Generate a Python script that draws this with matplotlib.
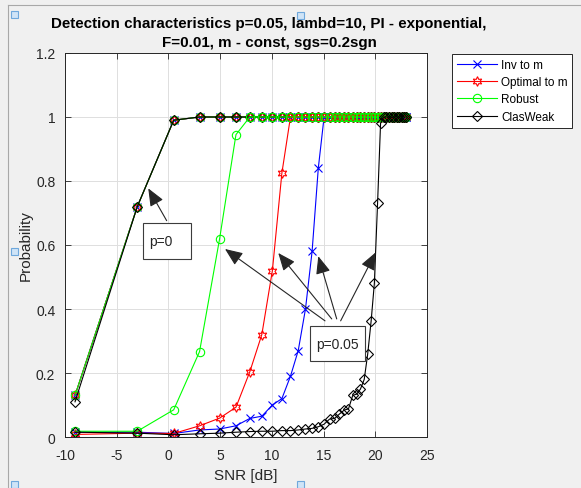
import matplotlib
matplotlib.use('Agg')
import matplotlib.pyplot as plt
from matplotlib.patches import Rectangle
from matplotlib.lines import Line2D

plt.rcParams['font.family'] = ['Liberation Sans', 'DejaVu Sans']
plt.rcParams['axes.unicode_minus'] = False

# SNR grid [dB]
snr = [-9.03, -3.01, 0.51, 3.01, 4.95, 6.53, 7.87, 9.03, 10.05, 10.97,
       11.80, 12.55, 13.25, 13.89, 14.49, 15.05, 15.58, 16.07, 16.54, 16.99,
       17.41, 17.82, 18.20, 18.57, 18.93, 19.27, 19.60, 19.91, 20.22, 20.51,
       20.80, 21.07, 21.34, 21.60, 21.85, 22.10, 22.33, 22.57, 22.79, 23.01]

# p = 0 curves (all nearly on top of each other)
inv_p0 = [0.13, 0.72, 0.99, 1, 1, 1, 1, 1, 1, 1,
          1, 1, 1, 1, 1, 1, 1, 1, 1, 1,
          1, 1, 1, 1, 1, 1, 1, 1, 1, 1,
          1, 1, 1, 1, 1, 1, 1, 1, 1, 1]
opt_p0 = [0.13, 0.72, 0.99, 1, 1, 1, 1, 1, 1, 1,
          1, 1, 1, 1, 1, 1, 1, 1, 1, 1,
          1, 1, 1, 1, 1, 1, 1, 1, 1, 1,
          1, 1, 1, 1, 1, 1, 1, 1, 1, 1]
rob_p0 = [0.13, 0.72, 0.99, 1, 1, 1, 1, 1, 1, 1,
          1, 1, 1, 1, 1, 1, 1, 1, 1, 1,
          1, 1, 1, 1, 1, 1, 1, 1, 1, 1,
          1, 1, 1, 1, 1, 1, 1, 1, 1, 1]
clw_p0 = [0.11, 0.72, 0.99, 1, 1, 1, 1, 1, 1, 1,
          1, 1, 1, 1, 1, 1, 1, 1, 1, 1,
          1, 1, 1, 1, 1, 1, 1, 1, 1, 1,
          1, 1, 1, 1, 1, 1, 1, 1, 1, 1]

# p = 0.05 curves
inv_p05 = [0.015, 0.015, 0.011, 0.022, 0.025, 0.035, 0.058, 0.065, 0.100, 0.120,
           0.190, 0.270, 0.400, 0.580, 0.840, 1, 1, 1, 1, 1,
           1, 1, 1, 1, 1, 1, 1, 1, 1, 1,
           1, 1, 1, 1, 1, 1, 1, 1, 1, 1]
opt_p05 = [0.008, 0.012, 0.011, 0.035, 0.059, 0.093, 0.204, 0.320, 0.520, 0.825,
           1, 1, 1, 1, 1, 1, 1, 1, 1, 1,
           1, 1, 1, 1, 1, 1, 1, 1, 1, 1,
           1, 1, 1, 1, 1, 1, 1, 1, 1, 1]
rob_p05 = [0.018, 0.018, 0.085, 0.267, 0.620, 0.945, 1, 1, 1, 1,
           1, 1, 1, 1, 1, 1, 1, 1, 1, 1,
           1, 1, 1, 1, 1, 1, 1, 1, 1, 1,
           1, 1, 1, 1, 1, 1, 1, 1, 1, 1]
clw_p05 = [0.015, 0.012, 0.007, 0.010, 0.012, 0.015, 0.017, 0.018, 0.018, 0.020,
           0.020, 0.022, 0.025, 0.027, 0.032, 0.040, 0.056, 0.058, 0.072, 0.084,
           0.088, 0.130, 0.134, 0.150, 0.180, 0.260, 0.363, 0.480, 0.730, 0.980,
           1, 1, 1, 1, 1, 1, 1, 1, 1, 1]

labels = ['Inv to m', 'Optimal to m', 'Robust', 'ClasWeak']
colors = ['#0000ff', '#ff0000', '#00ff00', '#000000']
markers = ['x', (6, 1, 0), 'o', 'D']
msizes = [6, 7, 6, 5]

fig = plt.figure(figsize=(5.81, 4.89), dpi=100)
fig.patch.set_facecolor('#f0f0f0')
ax = fig.add_axes([65 / 581, 1 - 438 / 489, 362 / 581, 384 / 489])

curves = [inv_p0, opt_p0, rob_p0, clw_p0, inv_p05, opt_p05, rob_p05, clw_p05]
handles = []
for i, yv in enumerate(curves):
    k = i % 4
    h, = ax.plot(snr, yv, color=colors[k], marker=markers[k], markersize=msizes[k],
                 markerfacecolor='none', markeredgewidth=0.8, linewidth=0.8)
    if i < 4:
        handles.append(h)

ax.set_xlim(-10, 25)
ax.set_ylim(0, 1.2)
ax.set_xticks([-10, -5, 0, 5, 10, 15, 20, 25])
ax.set_yticks([0, 0.2, 0.4, 0.6, 0.8, 1, 1.2])
ax.set_yticklabels(['0', '0.2', '0.4', '0.6', '0.8', '1', '1.2'])
ax.grid(True, color='#dedede', linewidth=0.7)
ax.set_axisbelow(True)
ax.tick_params(direction='in', top=True, right=True, length=4, width=0.6,
               labelsize=10, colors='#262626')
ax.tick_params(axis='x', pad=8)
ax.tick_params(axis='y', pad=7)
for sp in ax.spines.values():
    sp.set_color('#262626')
    sp.set_linewidth(0.7)

ax.set_xlabel('SNR [dB]', fontsize=11, color='#262626')
ax.set_ylabel('Probability', fontsize=11, color='#262626')
ax.xaxis.set_label_coords(0.5, -0.08)
ax.yaxis.set_label_coords(-0.088, 0.5)

fig.text(269 / 581, 1 - 28 / 489,
         'Detection characteristics p=0.05, lambd=10, PI - exponential,',
         ha='center', va='baseline', fontsize=10.9, fontweight='bold', color='#000000')
fig.text(269 / 581, 1 - 47 / 489, 'F=0.01, m - const, sgs=0.2sgn',
         ha='center', va='baseline', fontsize=10.9, fontweight='bold', color='#000000')

leg = ax.legend(handles, labels, loc='upper left', bbox_to_anchor=(1.069, 0.997),
                fontsize=8.5, frameon=True, fancybox=False, framealpha=1,
                edgecolor='#262626', handlelength=3.4, handletextpad=0.35,
                labelspacing=0.45, borderpad=0.4, borderaxespad=0)
leg.get_frame().set_linewidth(0.7)

# text boxes and arrows
ax.add_patch(Rectangle((-2.49, 0.556), 4.64, 0.112, facecolor='white',
                       edgecolor='#3c3c3c', linewidth=0.8, zorder=5))
ax.text(-1.88, 0.612, 'p=0', fontsize=10, va='center', ha='left', color='#262626', zorder=6)
ax.add_patch(Rectangle((13.69, 0.238), 5.31, 0.108, facecolor='white',
                       edgecolor='#3c3c3c', linewidth=0.8, zorder=5))
ax.text(14.27, 0.292, 'p=0.05', fontsize=10, va='center', ha='left', color='#262626', zorder=6)

arrows = [((-1.95, 0.777), (-0.17, 0.676)),
          ((5.47, 0.5875), (15.14, 0.363)),
          ((10.62, 0.575), (15.79, 0.369)),
          ((14.49, 0.565), (16.27, 0.369)),
          ((20.04, 0.577), (16.65, 0.363))]
for tip, tail in arrows:
    ax.annotate('', xy=tip, xytext=tail, zorder=7,
                arrowprops=dict(arrowstyle='-|>,head_length=0.6,head_width=0.25',
                                mutation_scale=18, color='#262626', linewidth=0.8,
                                shrinkA=0, shrinkB=0))

# window frame lines and selection handles from the screenshot
fig.add_artist(Line2D([8 / 581, 1], [1 - 6 / 489, 1 - 6 / 489], color='#a8a8a8', linewidth=0.8))
fig.add_artist(Line2D([8 / 581, 8 / 581], [0, 1 - 6 / 489], color='#a8a8a8', linewidth=0.8))
for hx, hy in [(14, 15), (300, 16), (14, 252), (14, 485), (300, 485)]:
    fig.add_artist(Rectangle(((hx - 3.5) / 581, 1 - (hy + 3.5) / 489), 7 / 581, 7 / 489,
                             facecolor='#cfe4f7', edgecolor='#6fa8dc', linewidth=0.8,
                             transform=fig.transFigure))

fig.savefig('out.png', dpi=100, facecolor=fig.get_facecolor())
